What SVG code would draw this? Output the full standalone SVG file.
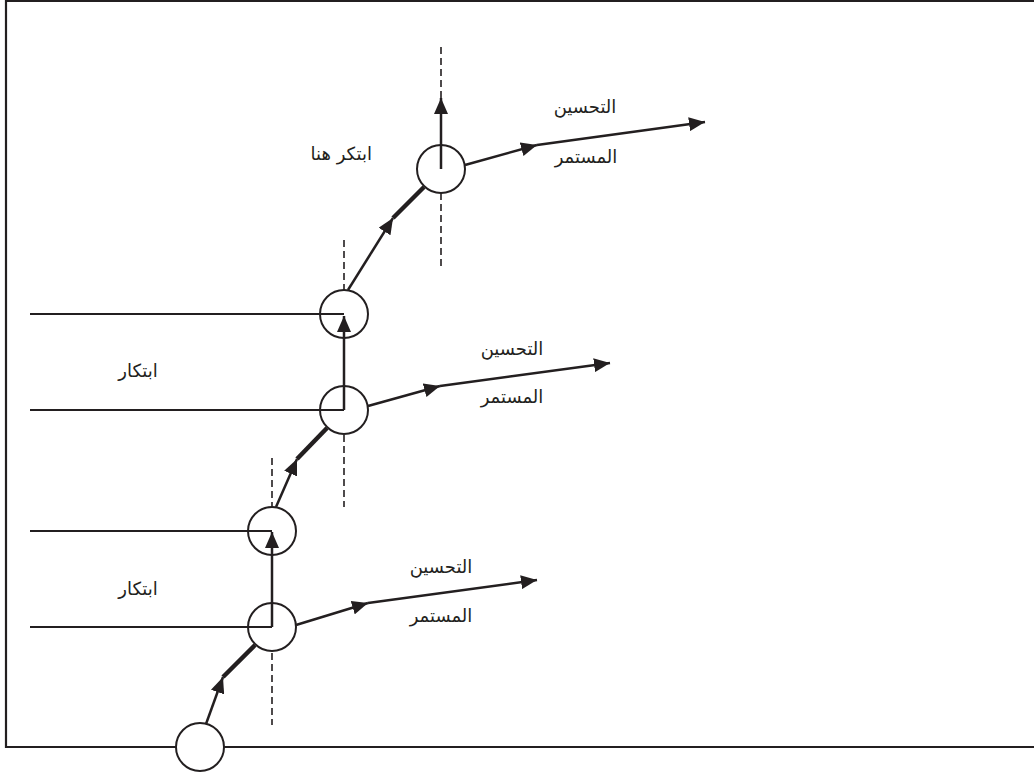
<svg xmlns="http://www.w3.org/2000/svg" width="1034" height="774" viewBox="0 0 1034 774">
<style>
.frame{stroke:#231f20;stroke-width:2.2;fill:none}
.thin{stroke:#231f20;stroke-width:1.8;fill:none}
.node{stroke:#231f20;stroke-width:2;fill:none}
.arr{stroke:#231f20;stroke-width:2.5;fill:none}
.thick{stroke:#231f20;stroke-width:4.5;fill:none}
.dash{stroke:#231f20;stroke-width:1.6;stroke-dasharray:7 4;fill:none}
text{font-family:"DejaVu Sans","Noto Sans",sans-serif;font-size:18px;fill:#231f20}
</style>
<defs>
<marker id="ah" viewBox="0 0 16 14" refX="16" refY="7" markerWidth="16" markerHeight="14" markerUnits="userSpaceOnUse" orient="auto">
<path d="M0,0 L16,7 L0,14 z" fill="#231f20"/>
</marker>
</defs>
<rect width="1034" height="774" fill="#ffffff"/>
<g id="frame">
<line class="frame" x1="6" y1="1" x2="1034" y2="1"/>
<line class="frame" x1="6" y1="0" x2="6" y2="748"/>
<line class="frame" x1="5" y1="747" x2="176" y2="747"/>
<line class="frame" x1="224" y1="747" x2="1034" y2="747"/>
<line class="thin" x1="30" y1="314" x2="344" y2="314"/>
<line class="thin" x1="30" y1="410" x2="344" y2="410"/>
<line class="thin" x1="30" y1="531" x2="272" y2="531"/>
<line class="thin" x1="30" y1="627" x2="272" y2="627"/>
<line class="dash" x1="272" y1="653" x2="272" y2="725"/>
<line class="dash" x1="272" y1="458" x2="272" y2="506"/>
<line class="dash" x1="344" y1="435" x2="344" y2="507"/>
<line class="dash" x1="344" y1="240" x2="344" y2="290"/>
<line class="dash" x1="441" y1="47" x2="441" y2="100"/>
<line class="dash" x1="441" y1="193" x2="441" y2="267"/>
</g>
<g id="n0"><circle class="node" cx="200" cy="747" r="24"/></g>
<g id="n1"><circle class="node" cx="272" cy="627" r="24"/></g>
<g id="n2"><circle class="node" cx="272" cy="531" r="24"/></g>
<g id="n3"><circle class="node" cx="344" cy="410" r="24"/></g>
<g id="n4"><circle class="node" cx="344" cy="314" r="24"/></g>
<g id="n5"><circle class="node" cx="441" cy="169" r="24"/></g>
<g id="connectors">
<line class="arr" x1="206" y1="724" x2="223" y2="677" marker-end="url(#ah)"/>
<line class="thick" x1="223" y1="677" x2="255" y2="645"/>
<line class="arr" x1="272" y1="627" x2="272" y2="532" marker-end="url(#ah)"/>
<line class="arr" x1="296" y1="625" x2="368" y2="603" marker-end="url(#ah)"/>
<line class="arr" x1="368" y1="603" x2="537" y2="580" marker-end="url(#ah)"/>
<line class="arr" x1="276" y1="507" x2="297" y2="459" marker-end="url(#ah)"/>
<line class="thick" x1="297" y1="459" x2="327" y2="428"/>
<line class="arr" x1="344" y1="410" x2="344" y2="316" marker-end="url(#ah)"/>
<line class="arr" x1="368" y1="406" x2="440" y2="386" marker-end="url(#ah)"/>
<line class="arr" x1="440" y1="386" x2="610" y2="363" marker-end="url(#ah)"/>
<line class="arr" x1="348" y1="290" x2="393" y2="218" marker-end="url(#ah)"/>
<line class="thick" x1="393" y1="218" x2="424" y2="187"/>
<line class="arr" x1="441" y1="169" x2="441" y2="98" marker-end="url(#ah)"/>
<line class="arr" x1="465" y1="165" x2="537" y2="145" marker-end="url(#ah)"/>
<line class="arr" x1="537" y1="145" x2="705" y2="122" marker-end="url(#ah)"/>
</g>
<g id="labels">
<text x="585" y="113" text-anchor="middle">التحسين</text>
<text x="586" y="163" text-anchor="middle">المستمر</text>
<text x="512" y="355" text-anchor="middle">التحسين</text>
<text x="512" y="403" text-anchor="middle">المستمر</text>
<text x="441" y="573" text-anchor="middle">التحسين</text>
<text x="441" y="622" text-anchor="middle">المستمر</text>
<text x="372" y="160" text-anchor="end">ابتكر هنا</text>
<text x="138" y="377" text-anchor="middle">ابتكار</text>
<text x="138" y="595" text-anchor="middle">ابتكار</text>
</g>
</svg>
